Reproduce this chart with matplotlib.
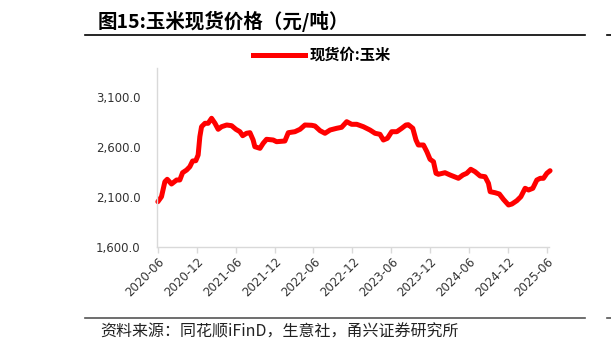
"""Corn spot price chart (图15)."""

import matplotlib

matplotlib.use("Agg")
import matplotlib.dates as mdates
import matplotlib.pyplot as plt
import pandas as pd
from matplotlib.lines import Line2D

plt.rcParams["font.family"] = ["Noto Sans CJK SC", "DejaVu Sans"]

title = "图15:玉米现货价格（元/吨）"
series_name = "现货价:玉米"
source = "资料来源：同花顺iFinD，生意社，甬兴证券研究所"

dates = [
    "2020-06-01", "2020-06-18", "2020-07-04", "2020-07-15", "2020-08-04",
    "2020-08-28", "2020-09-12", "2020-09-25", "2020-10-14", "2020-10-29",
    "2020-11-11", "2020-11-26", "2020-12-07", "2020-12-15", "2020-12-23",
    "2021-01-08", "2021-01-23", "2021-02-08", "2021-02-24", "2021-03-11",
    "2021-03-27", "2021-04-20", "2021-05-13", "2021-06-02", "2021-06-21",
    "2021-07-04", "2021-07-22", "2021-08-07", "2021-08-22", "2021-08-30",
    "2021-09-23", "2021-10-08", "2021-10-24", "2021-11-24", "2021-12-10",
    "2022-01-18", "2022-02-03", "2022-03-06", "2022-03-30", "2022-04-22",
    "2022-05-24", "2022-06-08", "2022-07-02", "2022-07-25", "2022-08-18",
    "2022-09-18", "2022-10-11", "2022-11-04", "2022-11-27", "2022-12-21",
    "2023-01-21", "2023-02-21", "2023-03-17", "2023-04-09", "2023-04-25",
    "2023-05-14", "2023-06-03", "2023-06-27", "2023-07-20", "2023-08-09",
    "2023-08-20", "2023-09-10", "2023-09-25", "2023-10-06", "2023-10-30",
    "2023-11-15", "2023-11-30", "2023-12-16", "2023-12-28", "2024-01-08",
    "2024-02-08", "2024-03-03", "2024-04-11", "2024-05-02", "2024-05-20",
    "2024-06-08", "2024-06-28", "2024-07-22", "2024-08-14", "2024-08-30",
    "2024-09-07", "2024-09-30", "2024-10-20", "2024-11-08", "2024-12-02",
    "2024-12-18", "2025-01-10", "2025-01-29", "2025-02-18", "2025-03-06",
    "2025-03-26", "2025-04-14", "2025-04-30", "2025-05-15", "2025-05-31",
    "2025-06-15",
]
prices = [
    2053, 2103, 2253, 2277, 2230,
    2270, 2270, 2343, 2370, 2403,
    2460, 2463, 2520, 2703, 2803,
    2837, 2837, 2887, 2837, 2777,
    2803, 2820, 2813, 2777, 2753,
    2713, 2737, 2743, 2670, 2603,
    2587, 2637, 2677, 2670, 2653,
    2660, 2743, 2753, 2777, 2820,
    2817, 2810, 2763, 2737, 2770,
    2787, 2797, 2853, 2827, 2827,
    2803, 2770, 2737, 2727, 2670,
    2687, 2753, 2753, 2787, 2820,
    2823, 2787, 2670, 2620, 2620,
    2553, 2477, 2453, 2337, 2327,
    2343, 2320, 2287, 2320, 2337,
    2377, 2353, 2310, 2303, 2237,
    2153, 2143, 2130, 2077, 2020,
    2030, 2063, 2103, 2187, 2170,
    2187, 2270, 2287, 2287, 2337,
    2363,
]
y_ticks = [1600, 2100, 2600, 3100]

x = pd.to_datetime(dates)

fig = plt.figure(figsize=(6.11, 3.52), dpi=100)
ax = fig.add_axes([157 / 611, 105 / 352, 392 / 611, 179 / 352])

ax.plot(x, prices, color="#ff0000", linewidth=3.6, solid_capstyle="round",
        solid_joinstyle="round", clip_on=False)

ax.set_xlim(pd.Timestamp("2020-05-28"), pd.Timestamp("2025-06-10"))
ax.set_ylim(1600, 3390)
ax.set_yticks(y_ticks)
ax.set_yticklabels([f"{v:,.1f}" for v in y_ticks], fontsize=8.5, color="#333333",
                   family=["DejaVu Sans"])
ax.xaxis.set_major_locator(mdates.MonthLocator(bymonth=[6, 12]))
ax.xaxis.set_major_formatter(mdates.DateFormatter("%Y-%m"))
for lbl in ax.get_xticklabels():
    lbl.set_rotation(45)
    lbl.set_ha("right")
    lbl.set_rotation_mode("anchor")
    lbl.set_fontsize(8.5)
    lbl.set_color("#333333")
    lbl.set_family(["DejaVu Sans"])

for side in ["top", "right"]:
    ax.spines[side].set_visible(False)
for side in ["left", "bottom"]:
    ax.spines[side].set_color("#d9d9d9")
    ax.spines[side].set_linewidth(1.0)
ax.tick_params(axis="y", length=0, pad=12)
ax.tick_params(axis="x", length=4, color="#d9d9d9", width=1.0, pad=2)

# legend above plot
handle = Line2D([], [], color="#ff0000", linewidth=3.6)
fig.legend([handle], [series_name], loc="center",
           bbox_to_anchor=(322 / 611, 1 - 55 / 352), frameon=False,
           handlelength=3.4, handletextpad=0.25,
           prop={"weight": "bold", "size": 11, "family": ["Noto Sans CJK SC"]})

# header / footer
fig.text(98 / 611, 1 - 21 / 352, title, fontsize=14, fontweight="bold",
         va="center", ha="left", color="black")
fig.add_artist(Line2D([85 / 611, 585 / 611], [1 - 35 / 352] * 2,
                      color="black", linewidth=1.2))
fig.add_artist(Line2D([607 / 611, 1.0], [1 - 35 / 352] * 2,
                      color="black", linewidth=1.2))
fig.add_artist(Line2D([85 / 611, 585 / 611], [1 - 318 / 352] * 2,
                      color="#555555", linewidth=1.2))
fig.add_artist(Line2D([607 / 611, 1.0], [1 - 318 / 352] * 2,
                      color="#555555", linewidth=1.2))
fig.text(100 / 611, 1 - 332 / 352, source, fontsize=11.5, style="italic",
         va="center", ha="left", color="#222222")

fig.savefig("out.png", dpi=100)
plt.close(fig)
